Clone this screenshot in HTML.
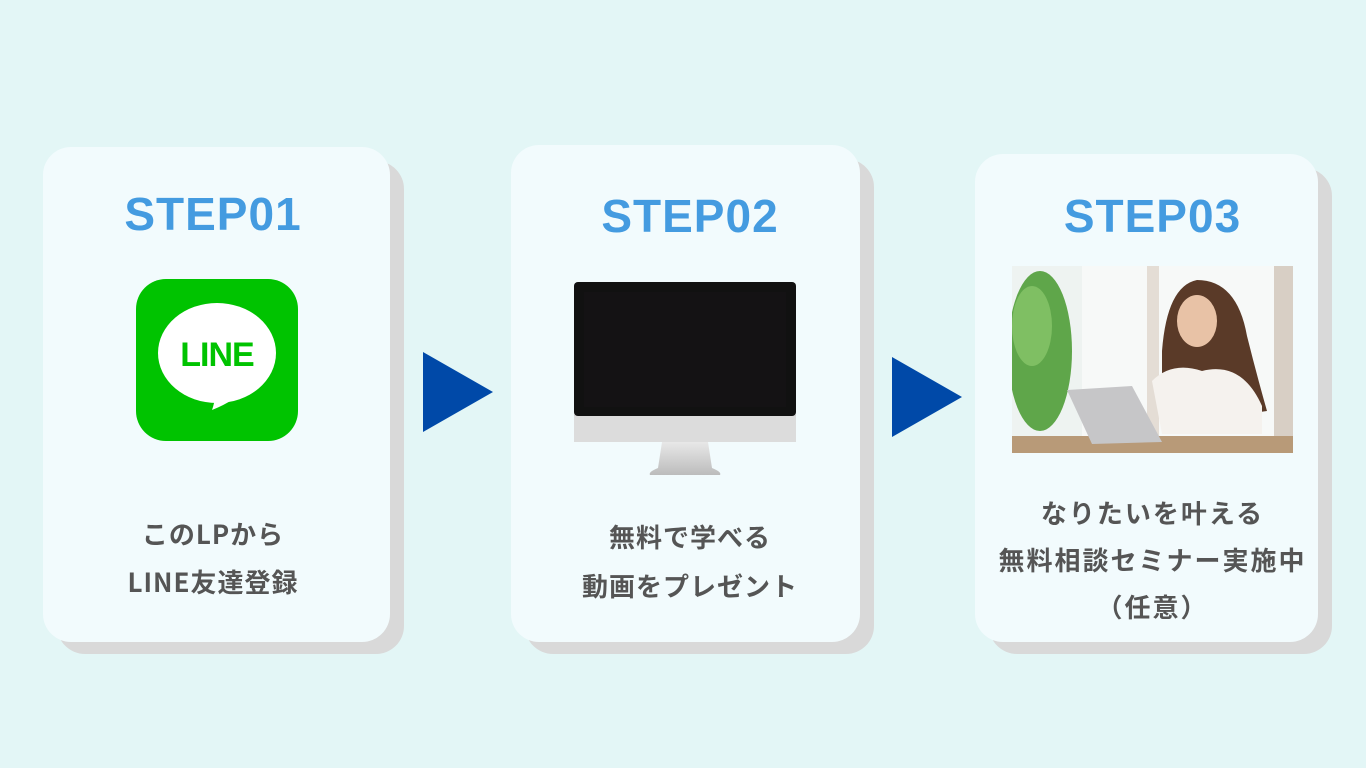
<!DOCTYPE html>
<html><head><meta charset="utf-8"><style>
body{margin:0;width:1366px;height:768px;background:#e3f6f6;position:relative;overflow:hidden;font-family:"Liberation Sans","Noto Sans CJK JP",sans-serif;}
.sh{position:absolute;background:#d9d9d9;border-radius:28px;}
.card{position:absolute;background:#f2fbfd;border-radius:28px;}
.t{position:absolute;color:#449be0;font-weight:bold;font-size:46px;text-align:center;letter-spacing:1px;}
.tx{position:absolute;color:#555;font-weight:bold;text-align:center;font-family:"Noto Sans CJK JP",sans-serif;letter-spacing:1px;}
.arr{position:absolute;width:0;height:0;border-top:40px solid transparent;border-bottom:40px solid transparent;border-left:70px solid #0049a8;}
</style></head><body>
<div class="sh" style="left:57px;top:161px;width:347px;height:493px"></div>
<div class="card" style="left:43px;top:147px;width:347px;height:495px"></div>
<div class="sh" style="left:525px;top:159px;width:349px;height:495px"></div>
<div class="card" style="left:511px;top:145px;width:349px;height:497px"></div>
<div class="sh" style="left:989px;top:168px;width:343px;height:486px"></div>
<div class="card" style="left:975px;top:154px;width:343px;height:488px"></div>

<div class="t" style="left:43px;top:187px;width:340px">STEP01</div>
<div class="t" style="left:511px;top:189px;width:358px">STEP02</div>
<div class="t" style="left:975px;top:189px;width:355px">STEP03</div>

<svg style="position:absolute;left:136px;top:279px" width="162" height="162" viewBox="0 0 162 162">
<rect width="162" height="162" rx="30" fill="#00c300"/>
<ellipse cx="81" cy="74" rx="59" ry="50" fill="#fff"/>
<path d="M60 110 L78 113 Q80 120 76 131 Q100 122 122 100 Z" fill="#fff"/>
<text x="81" y="87" text-anchor="middle" font-family="Liberation Sans" font-weight="bold" font-size="34" fill="#00c300" letter-spacing="-1">LINE</text>
</svg>

<div class="arr" style="left:423px;top:352px"></div>
<div class="arr" style="left:892px;top:357px"></div>

<svg style="position:absolute;left:574px;top:282px" width="222" height="194" viewBox="0 0 222 194">
<defs><linearGradient id="g" x1="0" y1="0" x2="0" y2="1"><stop offset="0" stop-color="#e8e8e8"/><stop offset="1" stop-color="#bcbcbc"/></linearGradient></defs>
<path d="M88 160 L134 160 L138 186 Q148 190 146 193 L76 193 Q74 190 84 186 Z" fill="url(#g)"/>
<rect x="0" y="0" width="222" height="160" rx="4" fill="#d0d0d0"/>
<rect x="0" y="0" width="222" height="134" rx="4" fill="#111"/>
<rect x="10" y="10" width="202" height="115" fill="#141214"/>
<rect x="0" y="134" width="222" height="26" fill="#dcdcdc"/>
</svg>

<svg style="position:absolute;left:1012px;top:266px" width="281" height="187" viewBox="0 0 281 187">
<rect width="281" height="187" fill="#eef3f1"/>
<rect x="70" y="0" width="200" height="170" fill="#f7f9f8"/>
<rect x="135" y="0" width="12" height="170" fill="#e4ddd5"/>
<rect x="262" y="0" width="19" height="175" fill="#d8cfc5"/>
<ellipse cx="28" cy="85" rx="32" ry="80" fill="#5fa64a"/>
<ellipse cx="20" cy="60" rx="20" ry="40" fill="#7fbf63"/>
<rect x="0" y="170" width="281" height="17" fill="#b89a78"/>
<path d="M150 85 Q155 20 185 14 Q225 14 235 70 Q245 110 255 145 L150 160 Z" fill="#5a3a28"/>
<ellipse cx="185" cy="55" rx="20" ry="26" fill="#e8c2a6"/>
<path d="M140 115 Q160 95 190 105 Q230 95 250 140 L250 168 L150 168 Z" fill="#f5f2ee"/>
<path d="M55 124 L120 120 L150 176 L80 178 Z" fill="#c6c6c8"/>
</svg>

<div class="tx" style="left:43px;top:510px;width:340px;font-size:26px;line-height:48px">このLPから<br>LINE友達登録</div>
<div class="tx" style="left:511px;top:512px;width:358px;font-size:26px;line-height:49px">無料で学べる<br>動画をプレゼント</div>
<div class="tx" style="left:975px;top:489px;width:355px;font-size:26px;line-height:47px;letter-spacing:2px">なりたいを叶える<br>無料相談セミナー実施中<br>（任意）</div>
</body></html>
